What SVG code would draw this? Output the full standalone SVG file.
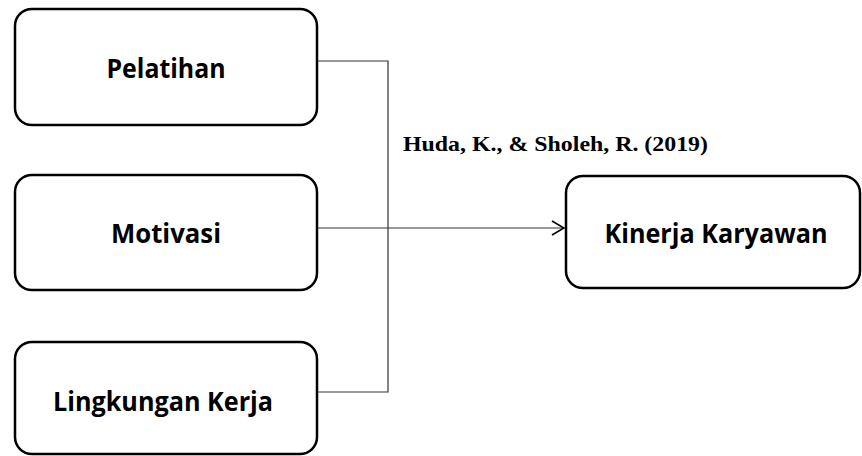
<svg xmlns="http://www.w3.org/2000/svg" width="862" height="456" viewBox="0 0 862 456">
<style>
.box{fill:#fff;stroke:#000;stroke-width:2.5}
.lbl{font-family:"Open Sans","Noto Sans",sans-serif;font-weight:bold;font-size:26px;fill:#000;text-anchor:middle}
.conn{fill:none;stroke:#333;stroke-width:1.2}
.cite{font-family:"Liberation Serif","Times New Roman",serif;font-weight:bold;font-size:21px;fill:#000}
</style>
<defs>
<marker id="arr" viewBox="0 0 14 16" refX="13" refY="8" markerWidth="14" markerHeight="16" markerUnits="userSpaceOnUse" orient="auto">
<path d="M1,1 L13,8 L1,15" fill="none" stroke="#000" stroke-width="1.6"/>
</marker>
</defs>
<g id="connectors">
<polyline class="conn" points="317,61 388,61 388,392 317,392"/>
<line class="conn" x1="317" y1="228" x2="564" y2="228" marker-end="url(#arr)"/>
</g>
<g id="pelatihan">
<rect class="box" x="15" y="9" width="302" height="116" rx="17"/>
<text class="lbl" x="166" y="78" textLength="119" lengthAdjust="spacingAndGlyphs">Pelatihan</text>
</g>
<g id="motivasi">
<rect class="box" x="15" y="175" width="302" height="115" rx="17"/>
<text class="lbl" x="166" y="243" textLength="110" lengthAdjust="spacingAndGlyphs">Motivasi</text>
</g>
<g id="lingkungan">
<rect class="box" x="15" y="342" width="302" height="112" rx="17"/>
<text class="lbl" x="163" y="411" textLength="220" lengthAdjust="spacingAndGlyphs">Lingkungan Kerja</text>
</g>
<g id="kinerja">
<rect class="box" x="566" y="176" width="294" height="112" rx="17"/>
<text class="lbl" x="716" y="243" textLength="223" lengthAdjust="spacingAndGlyphs">Kinerja Karyawan</text>
</g>
<text class="cite" x="403" y="151" textLength="305" lengthAdjust="spacingAndGlyphs">Huda, K., &amp; Sholeh, R. (2019)</text>
</svg>
